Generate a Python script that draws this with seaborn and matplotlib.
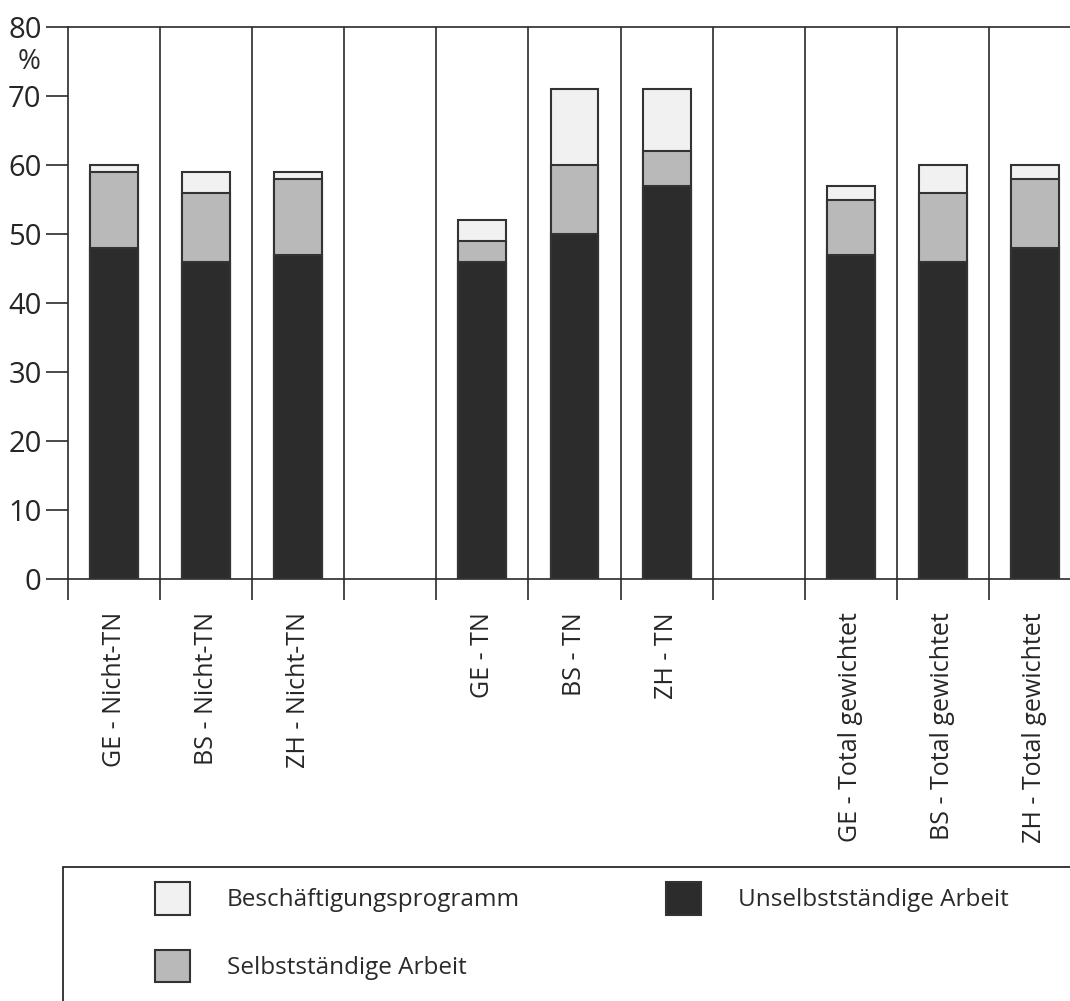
import matplotlib
matplotlib.use("Agg")
import matplotlib.pyplot as plt
from matplotlib.patches import Patch, Rectangle
import seaborn as sns
import pandas as pd

# ---- data ----
categories = ["GE - Nicht-TN", "BS - Nicht-TN", "ZH - Nicht-TN",
              "GE - TN", "BS - TN", "ZH - TN",
              "GE - Total gewichtet", "BS - Total gewichtet", "ZH - Total gewichtet"]
slot_order = ["GE - Nicht-TN", "BS - Nicht-TN", "ZH - Nicht-TN", " ",
              "GE - TN", "BS - TN", "ZH - TN", "  ",
              "GE - Total gewichtet", "BS - Total gewichtet", "ZH - Total gewichtet"]
unselbststaendig = [48, 46, 47, 46, 50, 57, 47, 46, 48]
selbststaendig = [11, 10, 11, 3, 10, 5, 8, 10, 10]
beschaeftigung = [1, 3, 1, 3, 11, 9, 2, 4, 2]
series_names = ["Beschäftigungsprogramm", "Selbstständige Arbeit", "Unselbstständige Arbeit"]
yticks = [0, 10, 20, 30, 40, 50, 60, 70, 80]

# ---- style ----
sns.set_theme(style="white")
plt.rcParams["font.family"] = ["Open Sans", "DejaVu Sans"]
plt.rcParams["text.color"] = "#2a2a2a"
plt.rcParams["axes.edgecolor"] = "#2a2a2a"

c_light, c_gray, c_dark, c_edge = "#f1f1f1", "#b9b9b9", "#2c2c2c", "#333333"

df = pd.DataFrame({"cat": categories, "u": unselbststaendig,
                   "s": selbststaendig, "b": beschaeftigung})
df["us"] = df["u"] + df["s"]
df["total"] = df["us"] + df["b"]

fig = plt.figure(figsize=(10.70, 10.01), dpi=100)
ax = fig.add_axes([68 / 1070, 422 / 1001, 1013 / 1070, 552 / 1001])

kw = dict(order=slot_order, width=0.52, edgecolor=c_edge, linewidth=1.5, ax=ax, zorder=3)
sns.barplot(data=df, x="cat", y="total", color=c_light, saturation=1, **kw)
sns.barplot(data=df, x="cat", y="us", color=c_gray, saturation=1, **kw)
sns.barplot(data=df, x="cat", y="u", color=c_dark, saturation=1, **kw)

ax.set_xlim(-0.5, 10.5)
ax.set_ylim(0, 80)
ax.set_xlabel("")
ax.set_ylabel("")

for sp in ["left", "bottom", "top"]:
    ax.spines[sp].set_visible(True)
    ax.spines[sp].set_linewidth(1.2)
    ax.spines[sp].set_color("#2a2a2a")
ax.spines["right"].set_visible(False)

# separators between slots
for xb in [i + 0.5 for i in range(10)]:
    ax.axvline(xb, color="#2a2a2a", lw=1.2, zorder=2)

# x ticks: major at boundaries (marks), minor at centers (labels)
ax.set_xticks([i - 0.5 for i in range(12)])
ax.set_xticklabels([])
ax.set_xticks(list(range(11)), minor=True)
ax.set_xticklabels([c.strip() for c in slot_order], minor=True, rotation=90,
                   fontsize=18, va="top", ha="center")
ax.tick_params(axis="x", which="major", length=15, width=1.2, direction="out",
               color="#2a2a2a", bottom=True)
ax.tick_params(axis="x", which="minor", length=0, pad=24, bottom=True)

ax.set_yticks(yticks)
ax.set_yticklabels([str(v) for v in yticks], fontsize=21)
ax.tick_params(axis="y", which="major", length=16, width=1.2, direction="out",
               color="#2a2a2a", pad=3, left=True)

fig.text(29 / 1070, 1 - 62 / 1001, "%", fontsize=20, ha="center", va="center")

# legend frame
fig.add_artist(Rectangle((63 / 1070, -0.05), 1.0, (1001 - 867) / 1001 + 0.05,
                         transform=fig.transFigure, fill=False, ec="#2a2a2a",
                         lw=1.3, clip_on=False))

colors = {"Beschäftigungsprogramm": c_light, "Selbstständige Arbeit": c_gray,
          "Unselbstständige Arbeit": c_dark}
fs = 17.5
px = fs * 100 / 72
leg_kw = dict(frameon=False, fontsize=fs, borderpad=0, borderaxespad=0,
              handlelength=35 / px, handleheight=41 / px, labelspacing=35 / px,
              handletextpad=37 / px, loc="upper left")
h1 = [Patch(fc=colors[n], ec=c_edge, lw=1.5) for n in series_names[:2]]
l1 = fig.legend(h1, series_names[:2], bbox_to_anchor=(155 / 1070, 1 - 882 / 1001), **leg_kw)
h2 = [Patch(fc=colors[series_names[2]], ec=c_edge, lw=1.5)]
l2 = fig.legend(h2, series_names[2:], bbox_to_anchor=(666 / 1070, 1 - 882 / 1001), **leg_kw)

fig.savefig("out.png", dpi=100)
